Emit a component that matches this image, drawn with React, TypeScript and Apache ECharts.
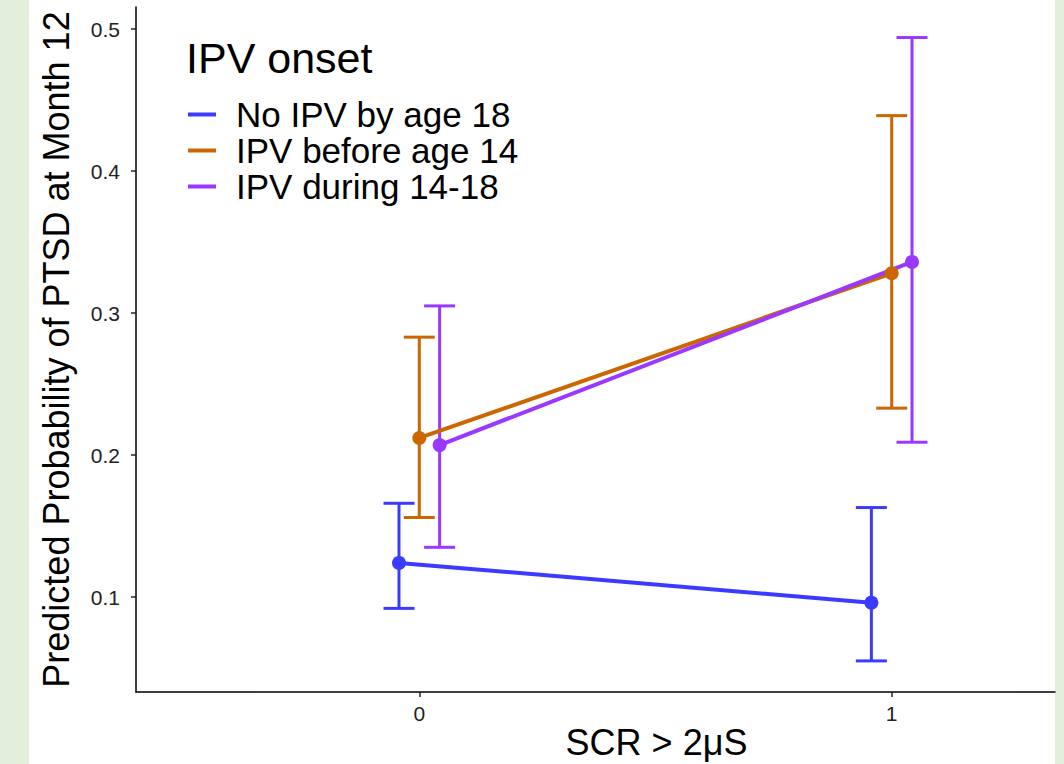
import React, { useEffect, useRef } from "react";
import * as echarts from "echarts";

// ---- data ----
const groupNames = ["No IPV by age 18", "IPV before age 14", "IPV during 14-18"];
const groupColors = ["#3b3bff", "#cc6600", "#9b38ff"];
const scrLevels = [0, 1];
const xTickLabels = ["0", "1"];
const yTickValues = [0.1, 0.2, 0.3, 0.4, 0.5];

const noIpvEst = [0.124, 0.096];
const noIpvLo = [0.092, 0.055];
const noIpvHi = [0.166, 0.163];

const beforeEst = [0.212, 0.328];
const beforeLo = [0.156, 0.233];
const beforeHi = [0.283, 0.439];

const duringEst = [0.207, 0.336];
const duringLo = [0.135, 0.209];
const duringHi = [0.305, 0.494];

const estimates = [noIpvEst, beforeEst, duringEst];
const lowers = [noIpvLo, beforeLo, duringLo];
const uppers = [noIpvHi, beforeHi, duringHi];

// dodge (position_dodge) offsets, layout only
const dodge = [-0.043, 0, 0.043];

const FONT = "'Liberation Sans', Arial, sans-serif";

export default function App() {
  const ref = useRef<HTMLDivElement>(null);

  useEffect(() => {
    if (!ref.current) return;
    const chart = echarts.init(ref.current, null, { renderer: "svg" });

    const lineSeries = groupNames.map((name, g) => ({
      type: "line",
      name,
      data: scrLevels.map((lvl, i) => [lvl + dodge[g], estimates[g][i]]),
      symbol: "circle",
      symbolSize: 14,
      lineStyle: { width: 4, color: groupColors[g] },
      itemStyle: { color: groupColors[g] },
      z: 3,
    }));

    const errSeries = groupNames.map((name, g) => ({
      type: "custom",
      name: name + " CI",
      data: scrLevels.map((lvl, i) => [lvl + dodge[g], lowers[g][i], uppers[g][i]]),
      encode: { x: 0, y: [1, 2] },
      z: 2,
      renderItem: (params: any, api: any) => {
        const x = api.value(0);
        const pLo = api.coord([x, api.value(1)]);
        const pHi = api.coord([x, api.value(2)]);
        const w = 15.5;
        const style = { stroke: groupColors[g], lineWidth: 3 };
        return {
          type: "group",
          children: [
            { type: "line", shape: { x1: pLo[0], y1: pLo[1], x2: pHi[0], y2: pHi[1] }, style },
            { type: "line", shape: { x1: pHi[0] - w, y1: pHi[1], x2: pHi[0] + w, y2: pHi[1] }, style },
            { type: "line", shape: { x1: pLo[0] - w, y1: pLo[1], x2: pLo[0] + w, y2: pLo[1] }, style },
          ],
        };
      },
    }));

    chart.setOption({
      animation: false,
      backgroundColor: "transparent",
      textStyle: { fontFamily: FONT },
      grid: { left: 136, right: 9, top: 7, bottom: 72, containLabel: false, outerBoundsMode: "none" },
      title: {
        text: "IPV onset",
        left: 186,
        top: 36,
        padding: 0,
        textStyle: { fontFamily: FONT, fontSize: 43, fontWeight: "normal", color: "#000" },
      },
      legend: {
        data: groupNames,
        orient: "vertical",
        left: 188,
        top: 97,
        padding: 0,
        itemGap: 1,
        itemWidth: 28,
        itemHeight: 4,
        icon: "rect",
        textStyle: { fontFamily: FONT, fontSize: 35, lineHeight: 35, color: "#000", padding: [0, 0, 0, 15] },
      },
      xAxis: {
        type: "value",
        min: -0.5997,
        max: 1.3457,
        name: "SCR > 2\u03bcS",
        nameLocation: "middle",
        nameMoveOverlap: false,
        nameGap: 32,
        nameTextStyle: {
          fontFamily: FONT,
          fontSize: 36,
          lineHeight: 36,
          color: "#000",
          verticalAlign: "top",
          padding: [0, 0, 0, 122],
        },
        splitLine: { show: false },
        axisLine: { show: true, onZero: false, lineStyle: { color: "#000", width: 1.5 } },
        axisTick: { show: true, length: 5, customValues: scrLevels, lineStyle: { color: "#222", width: 1.5 } },
        axisLabel: {
          customValues: scrLevels,
          formatter: (v: number) => xTickLabels[scrLevels.indexOf(Math.round(v))] ?? "",
          fontFamily: FONT,
          fontSize: 21,
          color: "#222",
          margin: 11,
        },
      },
      yAxis: {
        type: "value",
        min: 0.0331,
        max: 0.5155,
        name: "Predicted Probability of PTSD at Month 12",
        nameLocation: "middle",
        nameRotate: 90,
        nameGap: 62,
        nameTextStyle: { fontFamily: FONT, fontSize: 36, color: "#000" },
        splitLine: { show: false },
        axisLine: { show: true, onZero: false, lineStyle: { color: "#000", width: 1.5 } },
        axisTick: { show: true, length: 5, customValues: yTickValues, lineStyle: { color: "#222", width: 1.5 } },
        axisLabel: {
          customValues: yTickValues,
          formatter: (v: number) => v.toFixed(1),
          fontFamily: FONT,
          fontSize: 21,
          color: "#222",
          margin: 16,
        },
      },
      series: [...errSeries, ...lineSeries],
    });

    return () => chart.dispose();
  }, []);

  return (
    <div
      style={{
        position: "fixed",
        left: 0,
        top: 0,
        width: 1064,
        height: 764,
        background:
          "linear-gradient(to right, #e2efda 0px, #e2efda 29px, #ffffff 29px, #ffffff 1055px, #e2efda 1055px, #e2efda 1064px)",
      }}
    >
      <div ref={ref} style={{ width: 1064, height: 764 }} />
    </div>
  );
}
